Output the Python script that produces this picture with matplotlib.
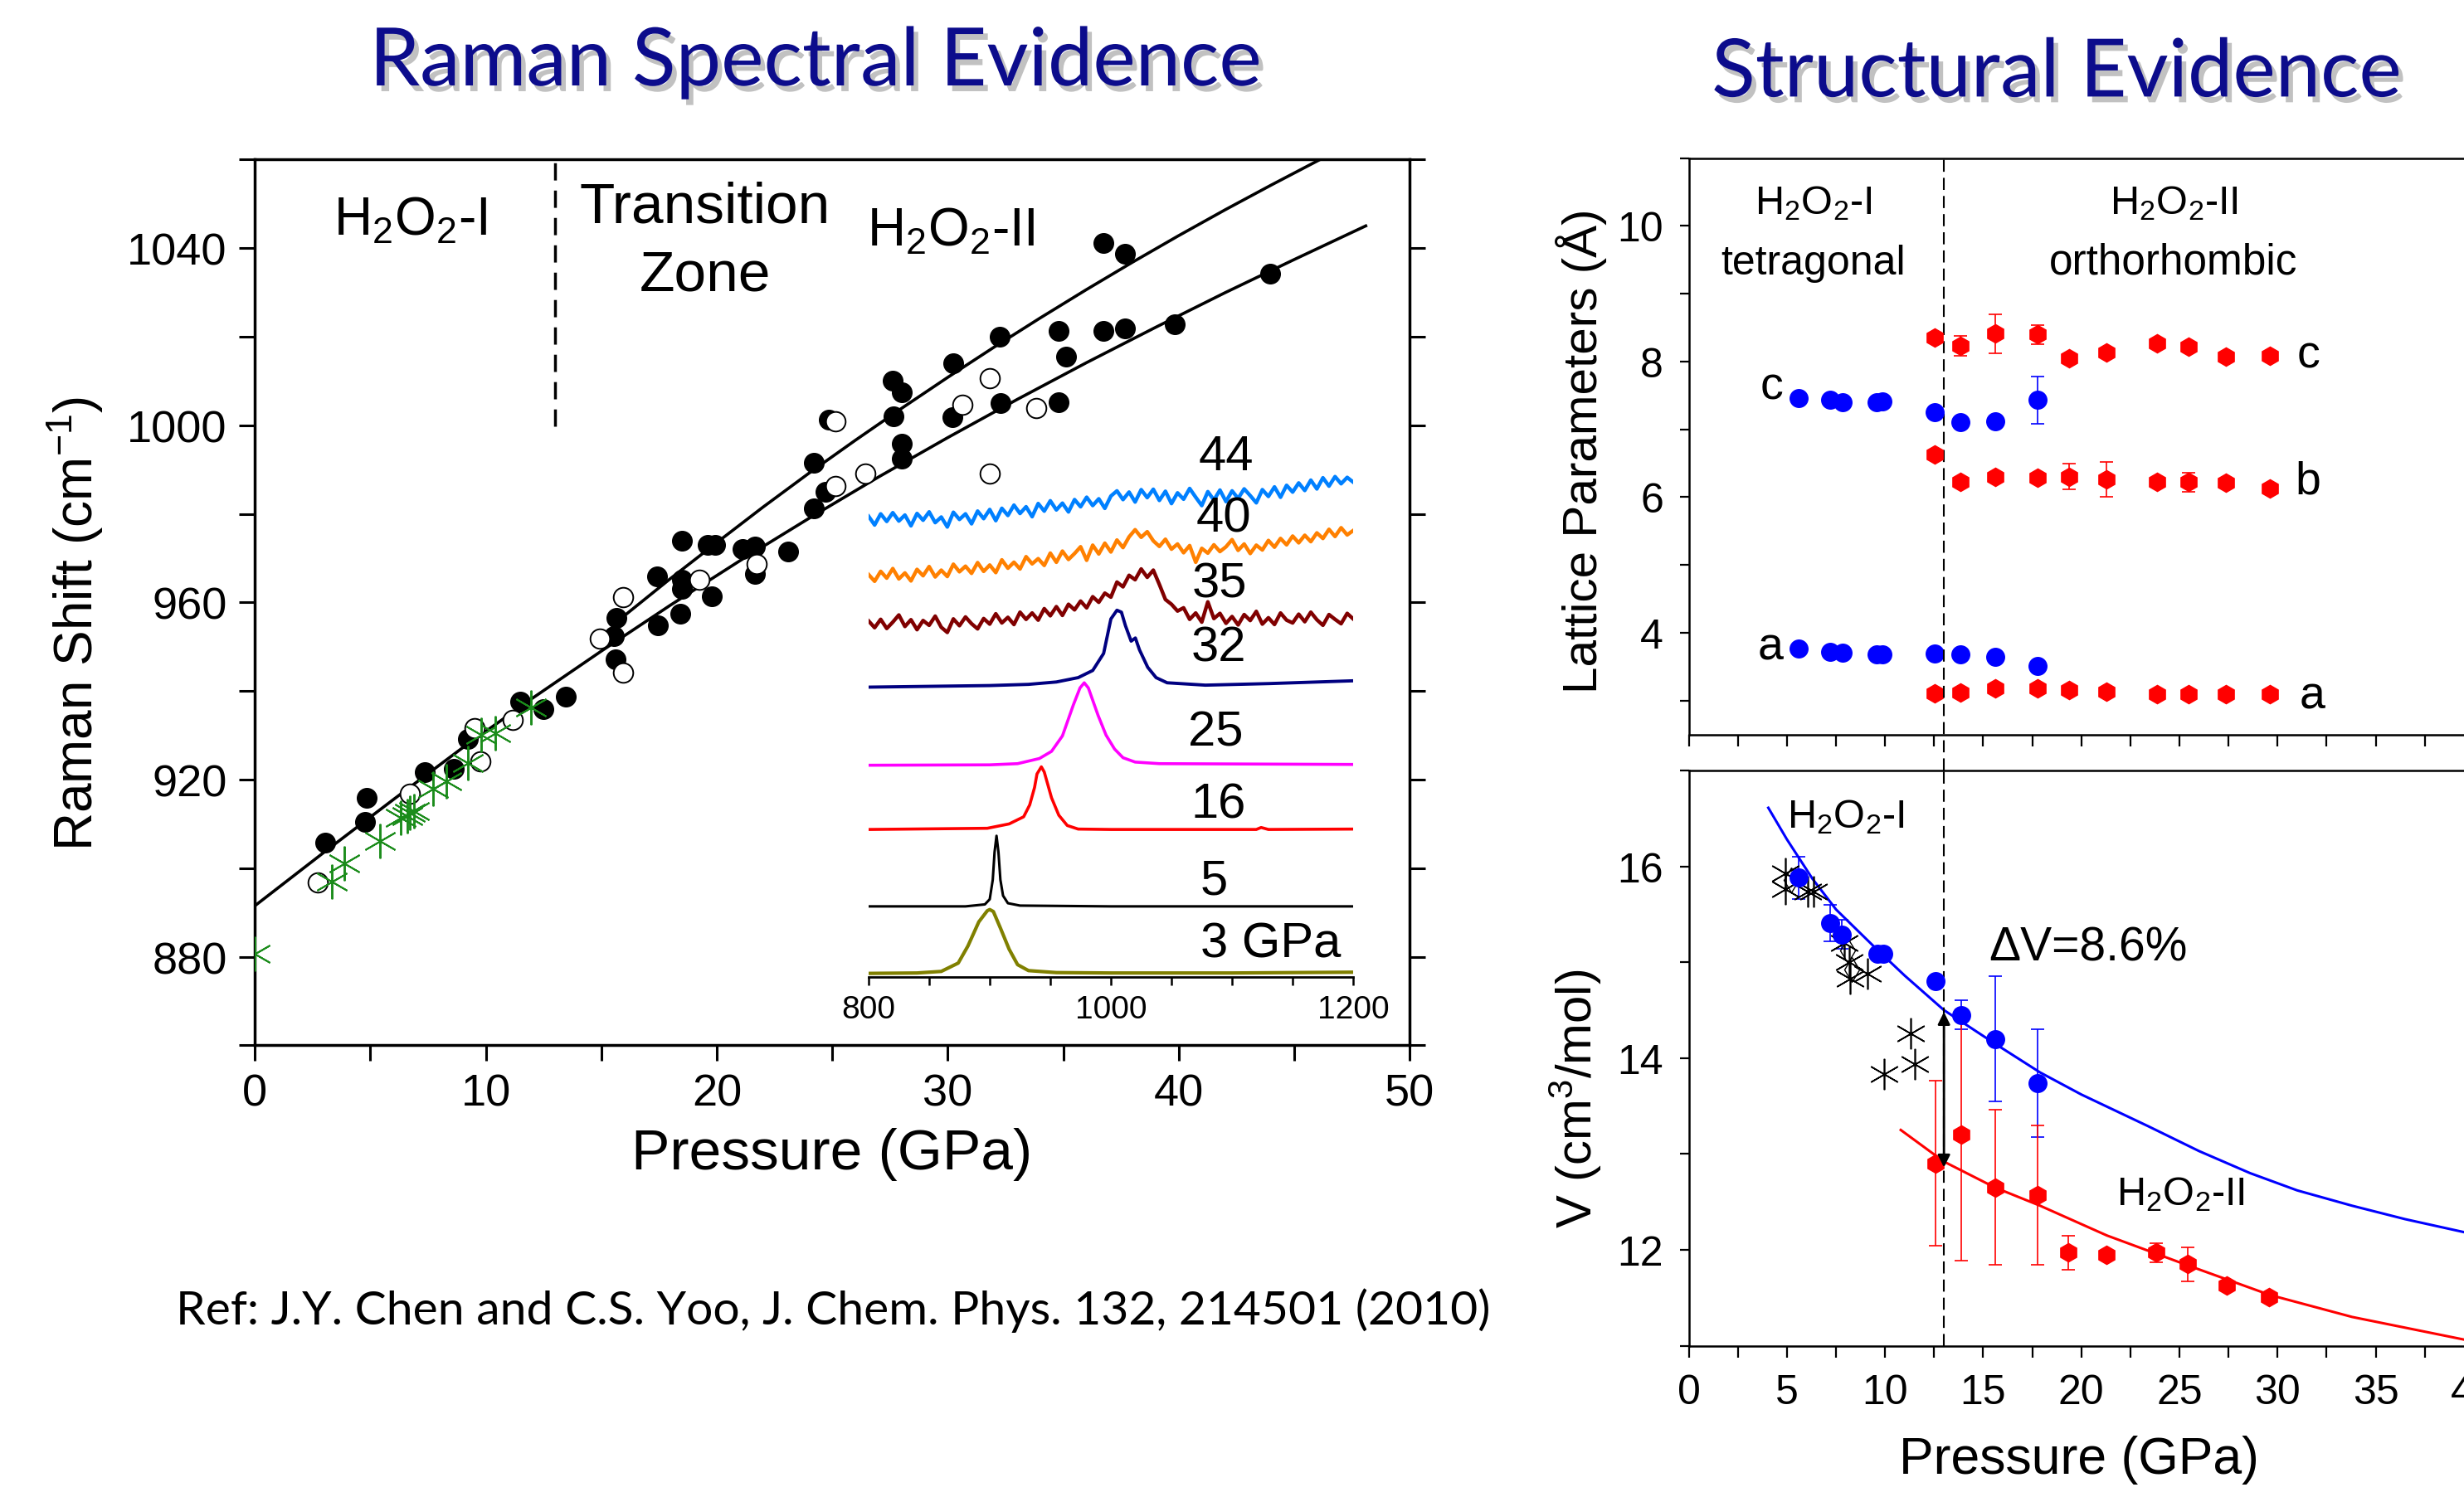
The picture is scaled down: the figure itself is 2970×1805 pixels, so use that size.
import matplotlib
matplotlib.use("Agg")
import matplotlib.pyplot as plt
import matplotlib.patheffects as pe
from matplotlib.ticker import MultipleLocator

plt.rcParams["font.family"] = ["Liberation Sans", "DejaVu Sans"]
plt.rcParams["mathtext.default"] = "regular"

# ---------------- Raman shift vs pressure (left panel) ----------------
filled_p = [3.05, 4.78, 4.85, 7.36, 8.6, 9.22, 11.5, 12.5, 13.46, 15.65, 15.56, 15.61,
            17.43, 17.45, 18.49, 18.49, 18.49, 18.43, 19.62, 19.92, 19.8, 21.12, 21.66,
            21.66, 23.1, 24.2, 24.7, 24.2, 24.85, 27.64, 27.6, 28.0, 28.0, 28.0, 30.25,
            30.21, 32.24, 32.27, 34.81, 35.14, 34.81, 36.74, 37.68, 36.74, 37.68, 39.83, 43.95]
filled_shift = [905.8, 910.4, 915.9, 921.7, 922.4, 929.1, 937.6, 935.9, 938.8, 956.5, 952.4, 947.1,
                965.8, 954.9, 973.9, 965.2, 963.0, 957.4, 973.0, 973.0, 961.4, 972.1, 972.7,
                966.4, 971.5, 991.6, 985.0, 981.2, 1001.3, 1002.1, 1010.0, 1007.5, 995.8, 992.5, 1014.0,
                1001.9, 1019.9, 1005.0, 1021.2, 1015.5, 1005.2, 1041.2, 1038.7, 1021.2, 1021.8, 1022.8, 1034.3]

open_p = [2.72, 6.7, 9.51, 9.75, 11.15, 14.95, 15.95, 15.95, 19.26, 21.72, 25.15, 25.15,
          26.44, 30.64, 31.81, 31.81, 33.82]
open_shift = [896.8, 916.9, 931.7, 924.2, 933.5, 951.8, 961.2, 944.2, 965.1, 968.6, 1000.8, 986.2,
              989.0, 1004.6, 1010.7, 989.0, 1003.8]

star_p = [0.0, 3.34, 3.86, 5.42, 6.33, 6.6, 6.7, 6.9, 7.73, 8.29, 9.22, 9.8, 10.4, 11.96]
star_shift = [880.7, 897.0, 901.0, 906.2, 911.3, 911.7, 912.5, 912.9, 918.0, 919.6, 923.8, 930.1, 930.5, 936.3]

lower_p = [0, 3, 6, 9, 12, 15, 18, 21, 24, 27, 30, 33, 36, 39, 42, 45, 48.1]
lower_shift = [891.5, 903.6, 915.5, 927.2, 938.3, 949.0, 959.4, 969.4, 979.0, 988.3, 997.2,
               1005.8, 1014.1, 1022.1, 1029.9, 1037.4, 1045.0]
upper_p = [16, 18, 20, 22, 24, 26, 28, 30, 32, 34, 36, 38, 40, 42, 44, 46.2]
upper_shift = [957.0, 965.4, 973.5, 981.5, 989.2, 996.6, 1003.8, 1010.8, 1017.6, 1024.2,
               1030.6, 1036.8, 1042.8, 1048.6, 1054.2, 1060.2]

# ---------------- Raman spectra (inset), offset intensity ----------------
wn_3 = [800, 840, 860, 874, 882, 891, 898, 900, 903, 909, 916, 923, 932, 955, 1000, 1100, 1200]
int_3 = [0.9, 1.0, 1.4, 3.5, 7.8, 13.9, 16.7, 17.0, 16.5, 12.2, 7.0, 3.1, 1.6, 1.1, 1.0, 1.0, 1.2]
wn_5 = [800, 880, 896, 900, 902.5, 904, 905.6, 907.2, 908.8, 911, 915, 925, 1000, 1200]
int_5 = [17.8, 17.8, 18.3, 19.6, 24.5, 31.5, 35.6, 31.5, 24.5, 20.5, 18.6, 18.0, 17.8, 17.8]
wn_16 = [800, 898, 916, 928, 933, 937, 939, 942.6, 945, 951, 957, 964, 973, 1000, 1120, 1124, 1130, 1200]
int_16 = [37.2, 37.5, 38.6, 40.4, 43.4, 47.8, 51.2, 53.0, 51.7, 45.2, 40.8, 38.2, 37.3, 37.2, 37.2, 37.7, 37.2, 37.3]
wn_25 = [800, 900, 923, 941, 951, 960, 969, 974.5, 978, 981.4, 989.4, 996, 1003, 1010, 1020, 1040, 1200]
int_25 = [53.4, 53.5, 53.8, 55.1, 56.9, 60.8, 68.6, 72.9, 74.2, 72.9, 66.0, 61.0, 57.5, 55.3, 54.2, 53.8, 53.6]
wn_32 = [800, 850, 900, 932, 955, 973, 985, 994, 1000, 1005, 1008.7, 1012, 1016.7, 1020.2, 1023.6,
         1030.4, 1037.3, 1046.4, 1078, 1131, 1200]
int_32 = [73.1, 73.3, 73.5, 73.8, 74.4, 75.5, 77.3, 81.6, 90.3, 92.5, 92.0, 88.6, 84.7, 85.5, 82.5,
          78.1, 75.5, 74.2, 73.6, 74.0, 74.7]

wn_noisy = [800, 805, 810, 815, 820, 825, 830, 835, 840, 845, 850, 855, 860, 865, 870, 875, 880, 885,
            890, 895, 900, 905, 910, 915, 920, 925, 930, 935, 940, 945, 950, 955, 960, 965, 970, 975,
            980, 985, 990, 995, 1000, 1005, 1010, 1015, 1020, 1025, 1030, 1035, 1040, 1045, 1050,
            1055, 1060, 1065, 1070, 1075, 1080, 1085, 1090, 1095, 1100, 1105, 1110, 1115, 1120, 1125,
            1130, 1135, 1140, 1145, 1150, 1155, 1160, 1165, 1170, 1175, 1180, 1185, 1190, 1195, 1200]
int_35 = [89.8, 88.1, 90.2, 87.9, 89.5, 91.3, 88.4, 90.1, 87.6, 89.9, 88.7, 91.0, 88.2, 86.9, 90.3,
          88.6, 90.8, 89.1, 87.8, 90.4, 89.0, 91.6, 89.3, 90.7, 88.9, 92.0, 90.2, 91.8, 90.0, 92.9,
          91.1, 93.4, 91.2, 94.0, 92.6, 94.8, 93.1, 95.9, 94.5, 96.8, 95.8, 99.6, 98.4, 101.3, 100.2,
          102.9, 100.8, 102.6, 99.0, 95.2, 94.0, 92.3, 93.1, 90.2, 91.8, 89.5, 94.6, 90.4, 91.7,
          89.2, 90.9, 88.8, 91.4, 89.9, 92.2, 89.0, 90.6, 88.9, 91.8, 90.0, 89.3, 91.5, 89.6, 92.0,
          90.1, 88.7, 91.4, 90.2, 89.1, 91.7, 90.3]
int_40 = [101.5, 99.8, 102.3, 100.6, 103.0, 100.4, 101.9, 99.9, 102.8, 101.2, 103.5, 100.9, 102.6,
          101.0, 104.1, 102.2, 103.6, 101.8, 104.5, 102.3, 103.9, 102.0, 105.2, 103.1, 104.6, 102.9,
          106.0, 104.2, 105.5, 103.8, 106.9, 104.6, 107.4, 105.3, 106.8, 108.5, 105.1, 108.9, 106.7,
          109.4, 107.2, 110.2, 108.3, 111.0, 112.8, 110.9, 112.3, 110.0, 108.6, 110.4, 107.9, 109.2,
          107.0, 108.8, 104.6, 108.1, 106.9, 109.0, 107.3, 108.5, 110.3, 107.6, 109.2, 106.8, 108.9,
          107.7, 110.1, 108.4, 110.6, 109.0, 111.2, 109.5, 111.4, 109.8, 112.0, 110.6, 112.9, 111.1,
          113.3, 111.5, 112.6]
int_44 = [116.2, 114.0, 116.8, 114.9, 117.1, 115.0, 116.5, 113.8, 116.9, 115.2, 117.3, 114.6, 116.0,
          113.5, 117.2, 115.4, 116.8, 114.3, 117.5, 115.6, 117.9, 115.1, 118.2, 116.4, 119.0, 116.9,
          118.6, 116.1, 119.4, 117.5, 120.1, 117.8, 119.5, 117.3, 120.4, 118.6, 121.0, 118.9, 120.6,
          118.2, 121.3, 122.6, 120.4, 122.3, 119.8, 122.9, 120.9, 123.0, 120.2, 122.5, 119.4, 122.1,
          120.5, 123.2, 121.0, 118.9, 122.4, 120.3, 122.8, 119.9, 122.6, 120.7, 123.1, 121.4, 119.6,
          122.9, 121.2, 123.6, 121.0, 124.0, 122.3, 124.6, 122.7, 125.3, 123.1, 125.9, 123.8, 126.2,
          124.4, 126.0, 124.8]

# ---------------- lattice parameters (right top) ----------------
blue_p = [5.6, 7.19, 7.84, 9.55, 9.88, 12.54, 13.83, 15.63, 17.78]
blue_c = [7.46, 7.43, 7.40, 7.40, 7.41, 7.25, 7.11, 7.12, 7.43]
blue_c_err = [0, 0, 0, 0, 0, 0, 0, 0, 0.35]
blue_a = [3.77, 3.72, 3.71, 3.68, 3.68, 3.69, 3.68, 3.65, 3.51]

red_p = [12.54, 13.83, 15.63, 17.78, 19.37, 21.26, 23.86, 25.48, 27.37, 29.6]
red_c = [8.35, 8.23, 8.41, 8.40, 8.05, 8.13, 8.27, 8.22, 8.07, 8.08]
red_c_err = [0, 0.15, 0.29, 0.14, 0, 0, 0, 0, 0, 0]
red_b = [6.63, 6.23, 6.30, 6.29, 6.30, 6.26, 6.22, 6.22, 6.21, 6.13]
red_b_err = [0, 0, 0, 0, 0.19, 0.26, 0, 0.14, 0, 0]
red_a = [3.11, 3.12, 3.18, 3.18, 3.15, 3.13, 3.10, 3.09, 3.09, 3.09]

# ---------------- molar volume (right bottom) ----------------
vol1_p = [5.61, 7.21, 7.78, 9.6, 9.9, 12.58, 13.88, 15.63, 17.78]
vol1 = [15.88, 15.41, 15.29, 15.09, 15.09, 14.80, 14.45, 14.20, 13.74]
vol1_err = [0.22, 0.19, 0.15, 0, 0, 0, 0.15, 0.65, 0.56]
vol2_p = [12.58, 13.88, 15.63, 17.78, 19.35, 21.3, 23.82, 25.44, 27.4, 29.57]
vol2 = [12.90, 13.20, 12.65, 12.57, 11.97, 11.95, 11.97, 11.85, 11.63, 11.51]
vol2_err = [0.86, 1.31, 0.81, 0.73, 0.18, 0, 0.10, 0.18, 0, 0]
ast_p = [4.9, 4.9, 6.08, 6.34, 7.9, 8.18, 8.23, 9.09, 11.31, 11.5, 9.95]
ast_v = [15.93, 15.76, 15.74, 15.74, 15.20, 15.00, 14.83, 14.88, 14.26, 13.94, 13.83]
dia_p = [5.2, 8.1, 8.3]
dia_v = [15.86, 15.12, 14.92]
fit1_p = [4.05, 5, 6.3, 7.5, 9.5, 11, 13, 15.6, 17.9, 20, 23.4, 26, 28.6, 31, 33.8, 36.5, 39.6]
fit1_v = [16.61, 16.28, 15.87, 15.55, 15.15, 14.86, 14.50, 14.15, 13.85, 13.62, 13.29, 13.03,
          12.80, 12.62, 12.46, 12.32, 12.18]
fit2_p = [10.8, 13, 15.6, 17.9, 21.3, 25.4, 29.6, 33.8, 39.6]
fit2_v = [13.25, 12.92, 12.65, 12.46, 12.15, 11.84, 11.53, 11.30, 11.06]

fig = plt.figure(figsize=(29.7, 18.06), dpi=100)

# titles
shadow = [pe.withSimplePatchShadow(offset=(4, -5), shadow_rgbFace="#777777", alpha=0.45)]
fig.text(0.331, 0.9424, "Raman Spectral Evidence", family="Lato", fontsize=70,
         color="#0c0c8c", ha="center", va="baseline", path_effects=shadow)
fig.text(0.8347, 0.935, "Structural Evidence", family="Lato", fontsize=70,
         color="#0c0c8c", ha="center", va="baseline", path_effects=shadow)
fig.text(0.0714, 0.1158, "Ref: J.Y. Chen and C.S. Yoo, J. Chem. Phys. 132, 214501 (2010)",
         family="Lato", fontsize=41, ha="left", va="baseline")

# ---- left panel ----
ax1 = fig.add_axes([0.1034, 0.3015, 0.4687, 0.5915])
ax1.set_xlim(0, 50)
ax1.set_ylim(860, 1060)
ax1.xaxis.set_major_locator(MultipleLocator(10))
ax1.xaxis.set_minor_locator(MultipleLocator(5))
ax1.yaxis.set_minor_locator(MultipleLocator(20))
ax1.set_yticks([880, 920, 960, 1000, 1040])
ax1.tick_params(which="both", direction="out", length=14, width=2.2, labelsize=39, pad=10,
                right=True)
for s in ax1.spines.values():
    s.set_linewidth(2.5)

ax1.plot(lower_p, lower_shift, color="black", lw=2.6, zorder=2)
ax1.plot(upper_p, upper_shift, color="black", lw=2.6, zorder=2)
ax1.plot(filled_p, filled_shift, "o", color="black", ms=17, zorder=3)
ax1.plot(open_p, open_shift, "o", mfc="white", mec="black", mew=1.4, ms=17, zorder=4)
ax1.plot(star_p, star_shift, ls="none", marker=(6, 2, 0), color="#1b8c1b", ms=30, mew=1.4, zorder=5)
ax1.plot([13, 13], [999.7, 1060], color="black", lw=2.5, dashes=(6, 3.5), zorder=2)

ax1.text(3.4, 1043, "H$_2$O$_2$-I", fontsize=46, ha="left", va="baseline")
ax1.text(19.5, 1045.9, "Transition", fontsize=50, ha="center", va="baseline")
ax1.text(19.5, 1030.6, "Zone", fontsize=50, ha="center", va="baseline")
ax1.text(26.5, 1040.7, "H$_2$O$_2$-II", fontsize=46, ha="left", va="baseline")

fig.text(0.0306, 0.5836, "Raman Shift (cm$^{-1}$)", fontsize=46, rotation=90,
         ha="center", va="center")
fig.text(0.3377, 0.229, "Pressure (GPa)", fontsize=50, ha="center", va="center")

# ---- inset spectra ----
axi = fig.add_axes([0.3525, 0.3472, 0.1967, 0.3494])
axi.set_xlim(800, 1200)
axi.set_ylim(0, 132)
axi.patch.set_alpha(0)
for side in ["left", "right", "top"]:
    axi.spines[side].set_visible(False)
axi.spines["bottom"].set_linewidth(2)
axi.set_yticks([])
axi.set_xticks([800, 1000, 1200])
axi.xaxis.set_minor_locator(MultipleLocator(50))
axi.tick_params(which="both", direction="out", length=7, width=1.8, labelsize=28, pad=8)

axi.plot(wn_3, int_3, color="#808000", lw=3)
axi.plot(wn_5, int_5, color="black", lw=2.2)
axi.plot(wn_16, int_16, color="#ff0000", lw=2.6)
axi.plot(wn_25, int_25, color="#ff00ff", lw=2.6)
axi.plot(wn_32, int_32, color="#000080", lw=2.8)
axi.plot(wn_noisy, int_35, color="#800000", lw=3.2)
axi.plot(wn_noisy, int_40, color="#ff8000", lw=3.2)
axi.plot(wn_noisy, int_44, color="#0080ff", lw=3.2)

spec_labels = ["44", "40", "35", "32", "25", "16", "5", "3 GPa"]
label_x = [1072, 1070, 1067, 1066, 1064, 1066, 1074, 1074]
label_y = [128, 112.5, 95.8, 79.8, 58.5, 40.2, 21, 5.2]
for t, lx, ly in zip(spec_labels, label_x, label_y):
    axi.text(lx, ly, t, fontsize=43, ha="left", va="baseline")

# ---- right panels ----
ax2 = fig.add_axes([0.6854, 0.5091, 0.3584, 0.3848])
ax3 = fig.add_axes([0.6854, 0.1010, 0.3584, 0.3841])
for ax in (ax2, ax3):
    ax.set_xlim(0, 45)
    ax.set_xticks([0, 5, 10, 15, 20, 25, 30, 35, 40])
    ax.xaxis.set_minor_locator(MultipleLocator(2.5))
    ax.tick_params(which="both", direction="out", width=1.6, labelsize=36, pad=14)
    ax.tick_params(axis="x", which="both", length=10)
    ax.tick_params(axis="y", which="both", length=8)
    for s in ax.spines.values():
        s.set_linewidth(1.8)

ax2.set_ylim(2.5, 11)
ax2.set_yticks([4, 6, 8, 10])
ax2.yaxis.set_minor_locator(MultipleLocator(1))
ax2.tick_params(axis="x", labelbottom=False)

eb = dict(capsize=6, elinewidth=1.2, capthick=1.2, ls="none")
ax2.errorbar(blue_p, blue_c, yerr=blue_c_err, fmt="o", color="#0000ff", ms=15.5, **eb)
ax2.plot(blue_p, blue_a, "o", color="#0000ff", ms=15.5)
ax2.errorbar(red_p, red_c, yerr=red_c_err, fmt="h", color="#ff0000", ms=16, **eb)
ax2.errorbar(red_p, red_b, yerr=red_b_err, fmt="h", color="#ff0000", ms=16, **eb)
ax2.plot(red_p, red_a, "h", color="#ff0000", ms=16)
ax2.axvline(13, ymin=-0.0626, ymax=1, color="black", lw=1.5, dashes=(7, 3.5), clip_on=False)

ax2.text(4.8, 7.62, "c", fontsize=40, ha="right", va="center")
ax2.text(4.8, 3.79, "a", fontsize=40, ha="right", va="center")
ax2.text(31.0, 8.09, "c", fontsize=40, ha="left", va="center")
ax2.text(30.9, 6.23, "b", fontsize=40, ha="left", va="center")
ax2.text(31.1, 3.06, "a", fontsize=40, ha="left", va="center")
ax2.text(6.35, 10.19, "H$_2$O$_2$-I", fontsize=35, ha="center", va="baseline")
ax2.text(6.35, 9.3, "tetragonal", fontsize=36, ha="center", va="baseline")
ax2.text(24.7, 10.19, "H$_2$O$_2$-II", fontsize=35, ha="center", va="baseline")
ax2.text(24.7, 9.3, "orthorhombic", fontsize=37, ha="center", va="baseline")

fig.text(0.6418, 0.699, "Lattice Parameters (Å)", fontsize=42, rotation=90,
         ha="center", va="center")

ax3.set_ylim(11, 17)
ax3.set_yticks([12, 14, 16])
ax3.yaxis.set_minor_locator(MultipleLocator(1))
ax3.plot(fit1_p, fit1_v, color="#0000ff", lw=2.2)
ax3.plot(fit2_p, fit2_v, color="#ff0000", lw=2.2)
ax3.errorbar(vol1_p, vol1, yerr=vol1_err, fmt="o", color="#0000ff", ms=15.5, **eb)
ax3.errorbar(vol2_p, vol2, yerr=vol2_err, fmt="h", color="#ff0000", ms=16, **eb)
ax3.plot(ast_p, ast_v, ls="none", marker=(6, 2, 0), color="black", ms=27, mew=1.2)
ax3.plot(dia_p, dia_v, ls="none", marker="d", mfc="none", mec="black", ms=15, mew=1)
ax3.axvline(13, color="black", lw=1.5, dashes=(7, 3.5))
ax3.annotate("", xy=(13, 14.48), xytext=(13, 12.86),
             arrowprops=dict(arrowstyle="<|-|>", color="black", lw=2, mutation_scale=22,
                             shrinkA=0, shrinkB=0))
ax3.text(5.0, 16.41, "H$_2$O$_2$-I", fontsize=35, ha="left", va="baseline")
ax3.text(15.3, 15.15, "ΔV=8.6%", fontsize=41, ha="left", va="center")
ax3.text(21.8, 12.47, "H$_2$O$_2$-II", fontsize=35, ha="left", va="baseline")

fig.text(0.6394, 0.2665, "V (cm$^3$/mol)", fontsize=43, rotation=90, ha="center", va="center")
fig.text(0.8437, 0.025, "Pressure (GPa)", fontsize=45, ha="center", va="center")

fig.savefig("out.png", dpi=100)
